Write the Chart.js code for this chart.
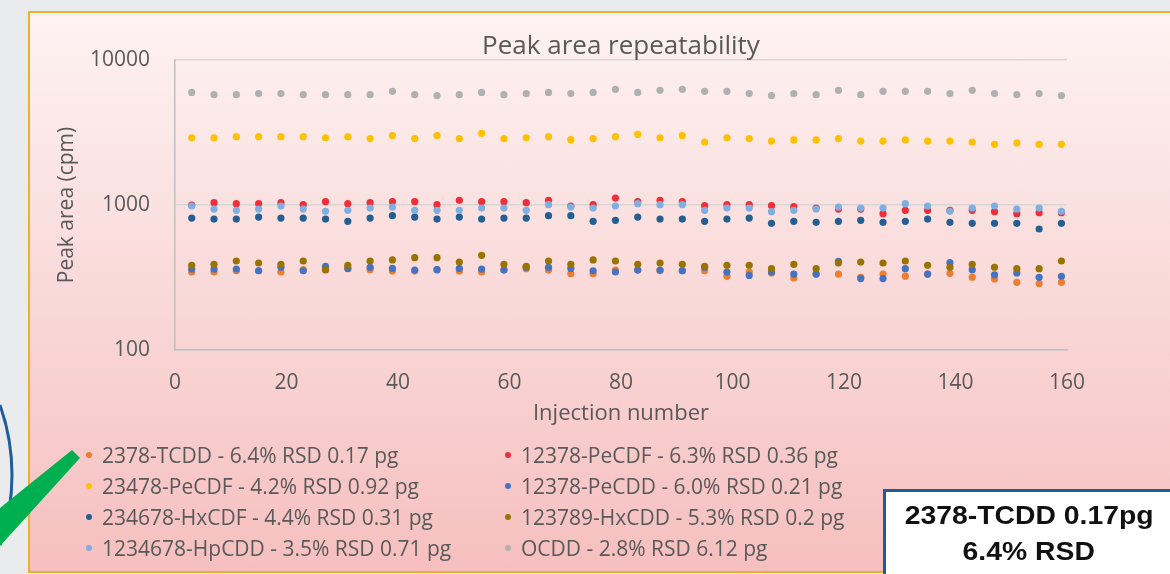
<!DOCTYPE html>
<html>
<head>
<meta charset="utf-8">
<script src="https://cdn.jsdelivr.net/npm/chart.js"></script>
<style>
  body { margin: 0; width: 1170px; height: 574px; overflow: hidden; background: #eaebed; font-family: "Open Sans", sans-serif; }
  #panel { position: absolute; left: 28px; top: 11px; width: 1160px; height: 558px; border: 2px solid #ebb12e;
           background: linear-gradient(#fdf3f2, #f6bfbf); }
  #myChart { position: absolute; left: 0; top: 0; }
  #deco { position: absolute; left: 0; top: 0; }
  .item { position: absolute; font-size: 21px; line-height: 24px; color: #595959; white-space: nowrap; }
  .item i { position: absolute; left: -16px; top: 9px; width: 6px; height: 6px; border-radius: 50%; }
  #note { position: absolute; left: 883px; top: 489px; width: 292px; height: 100px; background: #fff;
          border: 3px solid #1f5c99; box-sizing: border-box; text-align: center;
          font-family: "Liberation Sans", Arial, sans-serif; font-weight: bold; font-size: 26px; line-height: 36px;
          padding-top: 5px; color: #111; }
  #note span { display: inline-block; transform: scaleX(1.09); }
</style>
</head>
<body>
<div id="panel"></div>
<canvas id="myChart" width="1170" height="574"></canvas>
<svg id="deco" width="1170" height="574">
  <path d="M0,405 A210,210 0 0 1 0,545" fill="none" stroke="#1f5c99" stroke-width="3"/>
  <polygon points="72,450 80,458 0,546 0,508" fill="#00b050"/>
</svg>
<div id="legend"></div>
<div id="note"><span>2378-TCDD 0.17pg</span><br><span>6.4% RSD</span></div>
<script>
const injection = [3, 7, 11, 15, 19, 23, 27, 31, 35, 39, 43, 47, 51, 55, 59, 63, 67, 71, 75, 79,
  83, 87, 91, 95, 99, 103, 107, 111, 115, 119, 123, 127, 131, 135, 139, 143, 147, 151, 155, 159];

const tcdd = [345, 345, 352, 352, 345, 358, 358, 364, 358, 350, 350, 358, 350, 345, 358, 364, 356, 336, 336, 356,
  356, 352, 352, 352, 322, 345, 340, 314, 334, 334, 317, 334, 323, 334, 338, 318, 309, 293, 287, 293];
const pecdf12378 = [1000, 1038, 1021, 1021, 1038, 1005, 1054, 1021, 1038, 1054, 1054, 1005, 1077, 1054, 1054, 1038, 1077, 984, 1005, 1117,
  1054, 1077, 1054, 990, 1005, 1005, 990, 974, 953, 938, 938, 871, 919, 919, 919, 919, 899, 871, 885, 885];
const pecdf23478 = [2910, 2910, 2960, 2960, 2960, 2960, 2910, 2960, 2870, 3010, 2870, 3010, 2870, 3120, 2870, 2910, 2960, 2820, 2870, 2960,
  3070, 2910, 3010, 2720, 2910, 2870, 2760, 2810, 2810, 2870, 2760, 2760, 2810, 2760, 2760, 2720, 2620, 2680, 2620, 2620];
const pecdd = [362, 362, 362, 352, 372, 352, 378, 365, 372, 365, 356, 358, 365, 362, 356, 372, 372, 365, 352, 345,
  356, 356, 352, 372, 345, 327, 345, 334, 334, 409, 311, 311, 364, 334, 400, 358, 330, 340, 317, 322];
const hxcdf = [813, 800, 800, 826, 813, 813, 800, 772, 813, 844, 826, 800, 826, 800, 813, 813, 844, 844, 772, 784,
  826, 800, 800, 772, 800, 813, 747, 772, 760, 772, 784, 760, 772, 800, 760, 747, 747, 747, 683, 747];
const hxcdd = [384, 390, 411, 398, 390, 411, 358, 384, 411, 418, 433, 433, 404, 450, 390, 378, 411, 390, 418, 411,
  390, 398, 390, 378, 384, 384, 364, 390, 364, 398, 404, 398, 411, 384, 372, 390, 372, 364, 364, 411];
const hpcdd = [984, 938, 919, 938, 984, 938, 904, 919, 953, 969, 919, 919, 919, 953, 953, 919, 1005, 969, 953, 984,
  1021, 1005, 1005, 919, 953, 953, 899, 919, 938, 969, 953, 953, 1021, 984, 904, 953, 984, 938, 953, 904];
const ocdd = [5980, 5770, 5770, 5870, 5870, 5770, 5770, 5770, 5770, 6080, 5770, 5680, 5770, 5980, 5770, 5870, 5980, 5870, 5980, 6280,
  5980, 6180, 6280, 6080, 6080, 5870, 5680, 5870, 5770, 6180, 5770, 6080, 6080, 6080, 5870, 6180, 5870, 5770, 5870, 5680];

// series in Excel order (later ones are painted on top)
const seriesNames = [
  '2378-TCDD - 6.4% RSD 0.17 pg',
  '12378-PeCDF - 6.3% RSD 0.36 pg',
  '23478-PeCDF - 4.2% RSD 0.92 pg',
  '12378-PeCDD - 6.0% RSD 0.21 pg',
  '234678-HxCDF - 4.4% RSD 0.31 pg',
  '123789-HxCDD - 5.3% RSD 0.2 pg',
  '1234678-HpCDD - 3.5% RSD 0.71 pg',
  'OCDD - 2.8% RSD 6.12 pg'
];
const seriesValues = [tcdd, pecdf12378, pecdf23478, pecdd, hxcdf, hxcdd, hpcdd, ocdd];
const seriesColors = ['#ED7D31', '#EE2F3A', '#FFC000', '#4472C4', '#255E91', '#997300', '#7DB0E0', '#B0B0B0'];

const yTicks = [100, 1000, 10000];
const xTicks = [0, 20, 40, 60, 80, 100, 120, 140, 160];

const textColor = '#595959';
const tickFont = { family: 'Open Sans', size: 21 };

const ctx = document.getElementById('myChart');

new Chart(ctx, {
  type: 'scatter',
  data: {
    datasets: seriesNames.map((name, i) => ({
      label: name,
      data: injection.map((x, j) => ({ x: x, y: seriesValues[i][j] })),
      backgroundColor: seriesColors[i],
      borderWidth: 0,
      pointRadius: 3.6,
      order: seriesNames.length - i
    }))
  },
  options: {
    responsive: false,
    animation: false,
    layout: { padding: { left: 50, top: 20, right: 103, bottom: 147 } },
    plugins: {
      legend: { display: false },
      tooltip: { enabled: false },
      title: {
        display: true,
        fullSize: false,
        text: 'Peak area repeatability',
        color: textColor,
        font: { family: 'Open Sans', size: 26, weight: 'normal', lineHeight: 1 },
        padding: { top: 14, bottom: 0 }
      }
    },
    scales: {
      x: {
        type: 'linear',
        min: 0,
        max: 160,
        afterBuildTicks: s => { s.ticks = xTicks.map(v => ({ value: v })); },
        afterFit: s => { s.height = 77; },
        grid: { display: false, drawTicks: false },
        border: { color: '#bfbfbf', width: 1.5 },
        ticks: { color: textColor, font: tickFont, padding: 20, maxRotation: 0 },
        title: { display: true, text: 'Injection number', color: textColor,
                 font: { family: 'Open Sans', size: 22 }, padding: 0 }
      },
      y: {
        type: 'logarithmic',
        min: 100,
        max: 10000,
        afterBuildTicks: s => { s.ticks = yTicks.map(v => ({ value: v })); },
        afterFit: s => { s.width = 125; },
        grid: { color: '#d6d6d6', lineWidth: 1.5, drawTicks: false },
        border: { color: '#bfbfbf', width: 1.5 },
        ticks: { color: textColor, font: tickFont, padding: 25, callback: v => String(v) },
        title: { display: true, text: 'Peak area (cpm)', color: textColor,
                 font: { family: 'Open Sans', size: 21 }, padding: { top: 4, bottom: 0 } }
      }
    }
  }
});

// two-column legend, row by row like the Excel original
const legend = document.getElementById('legend');
const colLeft = [102, 521];
const rowTop = [443, 474, 505, 536];
seriesNames.forEach((name, i) => {
  const el = document.createElement('div');
  el.className = 'item';
  el.style.left = colLeft[i % 2] + 'px';
  el.style.top = rowTop[Math.floor(i / 2)] + 'px';
  el.innerHTML = '<i style="background:' + seriesColors[i] + '"></i>' + name;
  legend.appendChild(el);
});
</script>
</body>
</html>
